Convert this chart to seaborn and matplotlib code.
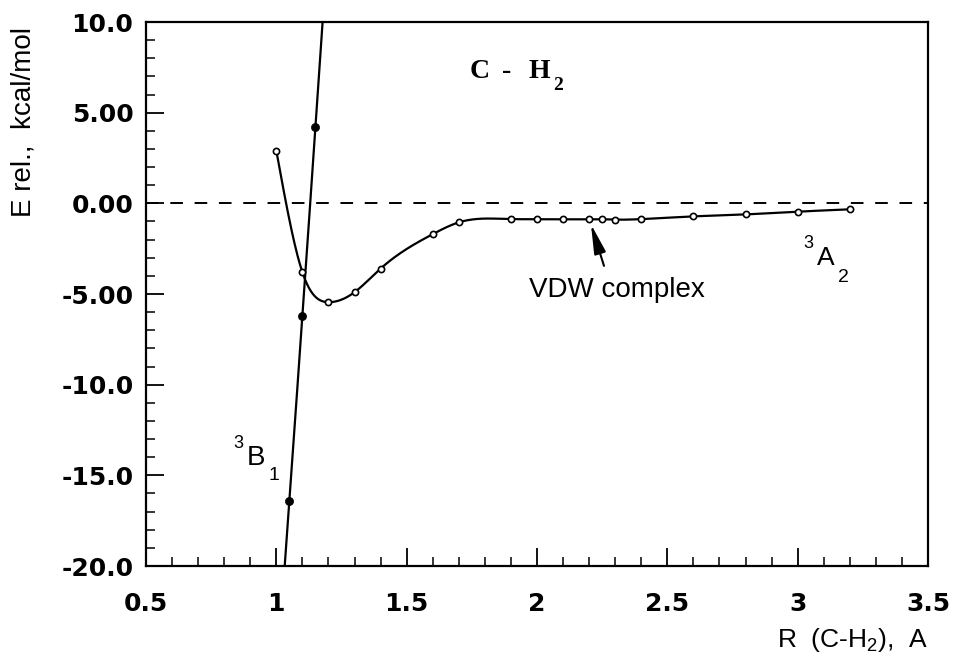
import numpy as np
import pandas as pd
import matplotlib
matplotlib.use("Agg")
import matplotlib.pyplot as plt
import matplotlib.transforms as mtrans
import seaborn as sns
from matplotlib.ticker import MultipleLocator

# ---- data ----
# 3A2 state (open circles)
r_a2 = [1.0, 1.1, 1.2, 1.3, 1.4, 1.6, 1.7, 1.9, 2.0, 2.1, 2.2, 2.25, 2.3, 2.4, 2.6, 2.8, 3.0, 3.2]
e_a2 = [2.9, -3.8, -5.45, -4.9, -3.6, -1.7, -1.05, -0.87, -0.87, -0.88, -0.88, -0.88,
        -0.9, -0.87, -0.72, -0.61, -0.46, -0.33]
# 3B1 state (filled circles)
r_b1 = [1.05, 1.10, 1.15]
e_b1 = [-16.4, -6.2, 4.2]

x_ticks = [0.5, 1, 1.5, 2, 2.5, 3, 3.5]
x_tick_labels = ["0.5", "1", "1.5", "2", "2.5", "3", "3.5"]
y_ticks = [10, 5, 0, -5, -10, -15, -20]
y_tick_labels = ["10.0", "5.00", "0.00", "-5.00", "-10.0", "-15.0", "-20.0"]


def natural_spline(x, y, xs):
    x = np.asarray(x, float)
    y = np.asarray(y, float)
    n = len(x)
    h = np.diff(x)
    A = np.zeros((n, n))
    b = np.zeros(n)
    A[0, 0] = 1
    A[-1, -1] = 1
    for i in range(1, n - 1):
        A[i, i - 1] = h[i - 1]
        A[i, i] = 2 * (h[i - 1] + h[i])
        A[i, i + 1] = h[i]
        b[i] = 3 * ((y[i + 1] - y[i]) / h[i] - (y[i] - y[i - 1]) / h[i - 1])
    c = np.linalg.solve(A, b)
    bb = (y[1:] - y[:-1]) / h - h * (2 * c[:-1] + c[1:]) / 3
    d = (c[1:] - c[:-1]) / (3 * h)
    idx = np.clip(np.searchsorted(x, xs) - 1, 0, n - 2)
    t = xs - x[idx]
    return y[idx] + bb[idx] * t + c[idx] * t ** 2 + d[idx] * t ** 3


sns.set_theme(style="white")
plt.rcParams["font.family"] = ["Liberation Sans", "DejaVu Sans"]
plt.rcParams["text.color"] = "black"
plt.rcParams["mathtext.fontset"] = "custom"
plt.rcParams["mathtext.rm"] = "Liberation Sans"
plt.rcParams["mathtext.it"] = "Liberation Sans:italic"

fig = plt.figure(figsize=(9.55, 6.65), dpi=100)
ax = fig.add_axes([146 / 955, 1 - 566 / 665, (928 - 146) / 955, (566 - 22) / 665])

# smooth curves through the points
xs = np.linspace(min(r_a2), max(r_a2), 600)
curve_a2 = pd.DataFrame({"r": xs, "e": natural_spline(r_a2, e_a2, xs)})
coef = np.polyfit(e_b1, r_b1, 2)
es = np.linspace(-20, 10, 200)
curve_b1 = pd.DataFrame({"r": np.polyval(coef, es), "e": es})

ax.axhline(0, color="black", lw=1.4, dashes=(6.5, 6), zorder=1)

sns.lineplot(data=curve_a2, x="r", y="e", ax=ax, color="black", lw=1.6, sort=False, zorder=2)
sns.lineplot(data=curve_b1, x="r", y="e", ax=ax, color="black", lw=1.6, sort=False, zorder=2)

pts_a2 = pd.DataFrame({"r": r_a2, "e": e_a2})
pts_b1 = pd.DataFrame({"r": r_b1, "e": e_b1})
sns.scatterplot(data=pts_a2, x="r", y="e", ax=ax, marker="o", s=20, facecolor="white",
                edgecolor="black", linewidth=1.2, zorder=3)
sns.scatterplot(data=pts_b1, x="r", y="e", ax=ax, marker="o", s=34, color="black",
                edgecolor="black", linewidth=0.5, zorder=3)

ax.set_xlim(0.5, 3.5)
ax.set_ylim(-20, 10)
ax.set_xticks(x_ticks)
ax.set_xticklabels(x_tick_labels, fontfamily="DejaVu Sans", fontweight="bold", fontsize=18)
ax.set_yticks(y_ticks)
ax.set_yticklabels(y_tick_labels, fontfamily="DejaVu Sans", fontweight="bold", fontsize=18)
ax.xaxis.set_minor_locator(MultipleLocator(0.1))
ax.yaxis.set_minor_locator(MultipleLocator(1))
ax.tick_params(axis="both", which="both", bottom=True, left=True, top=False, right=False)
ax.tick_params(axis="both", which="major", direction="in", length=13, width=1.3,
               color="black", labelcolor="black")
ax.tick_params(axis="both", which="minor", direction="in", length=6.5, width=1.1,
               color="black")
ax.tick_params(axis="x", which="major", pad=19)
ax.tick_params(axis="y", which="major", pad=9)
for s in ax.spines.values():
    s.set_color("black")
    s.set_linewidth(1.6)
ax.set_xlabel("")
ax.set_ylabel("")


def piece(x, y, s, dx=0, dy=0, **kw):
    tr = mtrans.offset_copy(ax.transData, fig=fig, x=dx, y=dy, units="dots")
    ax.text(x, y, s, transform=tr, ha="left", va="baseline", **kw)


# title "C - H2" (bold serif)
serif = dict(fontfamily="Liberation Serif", fontweight="bold")
piece(1.74, 6.91, "C", fontsize=20, **serif)
piece(1.74, 6.91, "-", dx=33, fontsize=20, **serif)
piece(1.74, 6.91, "H", dx=59, fontsize=20, **serif)
piece(1.74, 6.91, "2", dx=84, dy=-12, fontsize=14, **serif)

# state labels
piece(0.8875, -14.43, "B", fontsize=20)
piece(0.8875, -14.43, "3", dx=-14, dy=17, fontsize=13)
piece(0.8875, -14.43, "1", dx=21, dy=-15, fontsize=14)

piece(3.074, -3.40, "A", fontsize=19)
piece(3.074, -3.40, "3", dx=-14, dy=17, fontsize=13)
piece(3.074, -3.40, "2", dx=21, dy=-17, fontsize=14)

ax.text(1.97, -5.17, "VDW complex", fontsize=20, ha="left", va="baseline")
ax.annotate("", xy=(2.207, -1.15), xytext=(2.257, -3.45),
            arrowprops=dict(arrowstyle="-|>,head_length=1.0,head_width=0.2",
                            color="black", lw=1.5, mutation_scale=18, shrinkA=0, shrinkB=0))

fig.text(928 / 955, 1 - 647 / 665, r"R  (C-H$_{2}$),  A", fontsize=19,
         ha="right", va="baseline")
fig.text(24 / 955, 1 - 122 / 665, "E rel.,  kcal/mol", fontsize=20, rotation=90,
         ha="center", va="center")

fig.savefig("out.png", dpi=100)
